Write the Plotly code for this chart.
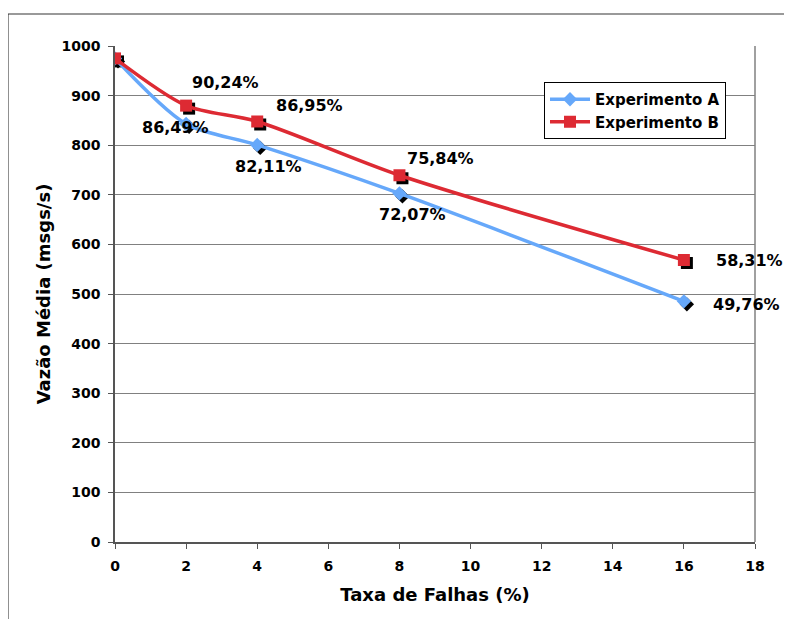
import plotly.graph_objects as go

# ---- data ----
taxa_falhas = [0, 2, 4, 8, 16]
vazao_a = [975, 843, 800.5, 702.7, 485.2]
vazao_b = [975, 879.8, 847.8, 739.4, 568.5]
labels_a = ["", "86,49%", "82,11%", "72,07%", "49,76%"]
labels_b = ["", "90,24%", "86,95%", "75,84%", "58,31%"]
x_ticks = [0, 2, 4, 6, 8, 10, 12, 14, 16, 18]
y_ticks = [0, 100, 200, 300, 400, 500, 600, 700, 800, 900, 1000]

# ---- layout geometry (window coordinates; page body has an 8px margin) ----
OFF = 8
WIN_W, WIN_H = 792, 619
W, H = WIN_W - OFF, WIN_H - OFF
PLOT_L, PLOT_R, PLOT_T, PLOT_B = 115, 755, 46, 542   # window px
ML = PLOT_L - OFF
MT = PLOT_T - OFF
plot_w = PLOT_R - PLOT_L
plot_h = PLOT_B - PLOT_T
MR = W - ML - plot_w
MB = H - MT - plot_h
XR = [0, 18]
YR = [0, 1000]
px_x = plot_w / (XR[1] - XR[0])
px_y = plot_h / (YR[1] - YR[0])
shadow_dx, shadow_dy = 3, 3

FONT = "DejaVu Sans"
BLUE = "#66A8FA"
RED = "#DD2A33"

fig = go.Figure()

# shadows (on an overlaid, shifted axis pair so they sit beneath)
for yv, sym, sz in [(vazao_a, "diamond", 11), (vazao_b, "square", 12)]:
    fig.add_trace(go.Scatter(
        x=taxa_falhas, y=yv, mode="markers", xaxis="x2", yaxis="y2",
        marker=dict(symbol=sym, size=sz, color="black"),
        showlegend=False, hoverinfo="skip"))

fig.add_trace(go.Scatter(
    x=taxa_falhas, y=vazao_a, mode="lines+markers", name="Experimento A",
    xaxis="x3", yaxis="y3",
    line=dict(color=BLUE, width=3.5, shape="spline", smoothing=0.8),
    marker=dict(symbol="diamond", size=11, color=BLUE)))
fig.add_trace(go.Scatter(
    x=taxa_falhas, y=vazao_b, mode="lines+markers", name="Experimento B",
    xaxis="x3", yaxis="y3",
    line=dict(color=RED, width=3.5, shape="spline", smoothing=0.8),
    marker=dict(symbol="square", size=12, color=RED)))

# data labels
offs_a = [(0, 0), (-11, -4), (11, -22), (13, -21), (63, -3)]
offs_b = [(0, 0), (39, 23), (52, 16), (41, 17), (66, 0)]
for xs, ys, labs, offs in [(taxa_falhas, vazao_a, labels_a, offs_a),
                           (taxa_falhas, vazao_b, labels_b, offs_b)]:
    for xv, yv, lab, (dx, dy) in zip(xs, ys, labs, offs):
        if not lab:
            continue
        fig.add_annotation(x=xv, y=yv, xref="x", yref="y", text=lab,
                           showarrow=False, xshift=dx, yshift=dy,
                           font=dict(family=FONT, size=16, color="black", weight="bold"))

def xp(wx):
    return (wx - PLOT_L) / plot_w

def yp(wy):
    return (PLOT_B - wy) / plot_h

shapes = [
    # plot area right border
    dict(type="line", xref="paper", yref="paper", x0=1, x1=1, y0=0, y1=1,
         line=dict(color="#808080", width=1.5)),
    # outer chart frame (top + left)
    dict(type="line", xref="paper", yref="paper", x0=xp(8), x1=xp(WIN_W + 5),
         y0=yp(14), y1=yp(14), line=dict(color="#999999", width=2)),
    dict(type="line", xref="paper", yref="paper", x0=xp(8), x1=xp(8),
         y0=yp(14), y1=yp(WIN_H + 5), line=dict(color="#222222", width=1)),
]

sx = shadow_dx / px_x
sy = shadow_dy / px_y

fig.update_layout(
    width=W, height=H,
    margin=dict(l=ML, r=MR, t=MT, b=MB),
    paper_bgcolor="white", plot_bgcolor="white",
    font=dict(family=FONT, color="black"),
    showlegend=True,
    legend=dict(x=xp(544), y=yp(82), xanchor="left", yanchor="top",
                bgcolor="white", bordercolor="black", borderwidth=1,
                font=dict(family=FONT, size=15, color="black", weight="bold"),
                tracegroupgap=0, itemwidth=40),
    shapes=shapes,
    hovermode=False,
    xaxis=dict(range=XR, tickvals=x_ticks, ticktext=[str(v) for v in x_ticks],
               showgrid=False, zeroline=False, showline=True,
               linecolor="#555555", linewidth=1.5, ticks="outside", ticklen=5,
               tickcolor="#555555", ticklabelstandoff=5,
               tickfont=dict(family=FONT, size=14, color="black", weight="bold"),
               title=dict(text="Taxa de Falhas (%)", standoff=16,
                          font=dict(family=FONT, size=18, color="black", weight="bold"))),
    yaxis=dict(range=YR, tickvals=y_ticks, ticktext=[str(v) for v in y_ticks],
               showgrid=True, gridcolor="#808080", gridwidth=1,
               zeroline=False, showline=True,
               linecolor="#555555", linewidth=1.5, ticks="outside", ticklen=5,
               tickcolor="#555555", ticklabelstandoff=5,
               tickfont=dict(family=FONT, size=14, color="black", weight="bold"),
               title=dict(text="Vazão Média (msgs/s)", standoff=6,
                          font=dict(family=FONT, size=18, color="black", weight="bold"))),
    xaxis2=dict(range=[XR[0] - sx, XR[1] - sx], overlaying="x", visible=False),
    yaxis2=dict(range=[YR[0] + sy, YR[1] + sy], overlaying="y", visible=False),
    xaxis3=dict(range=XR, overlaying="x", visible=False),
    yaxis3=dict(range=YR, overlaying="y", visible=False),
)

fig.write_html("out.html")
